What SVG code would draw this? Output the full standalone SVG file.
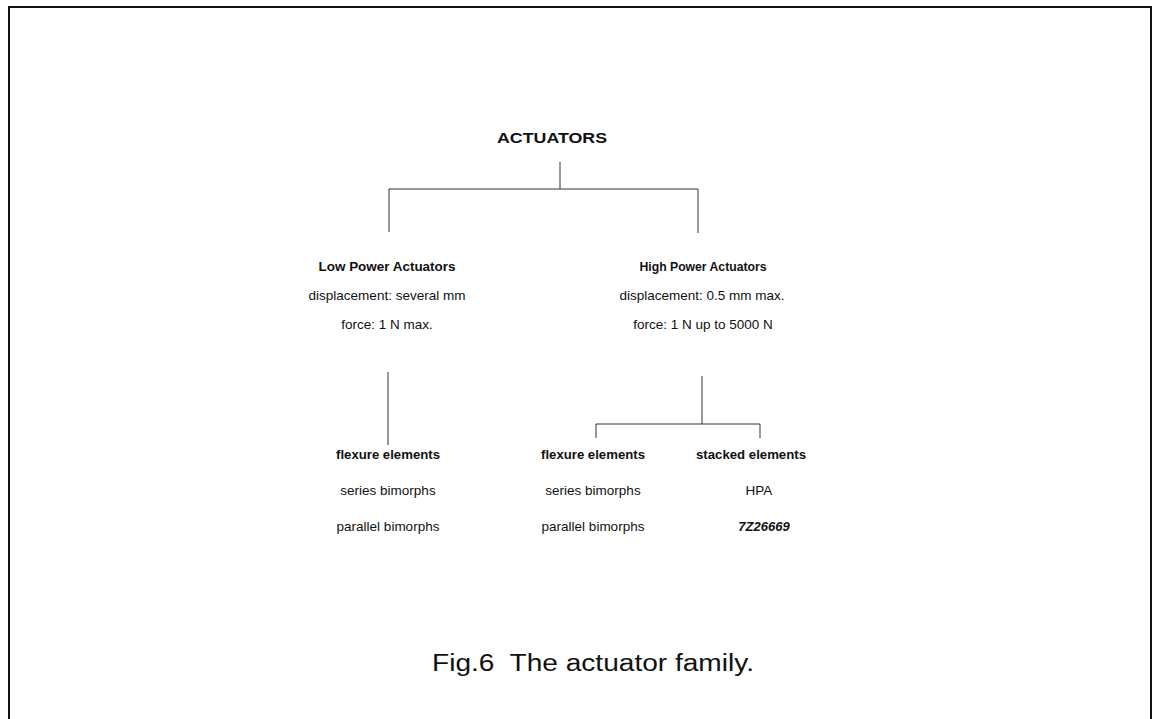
<svg xmlns="http://www.w3.org/2000/svg" width="1154" height="719" viewBox="0 0 1154 719">
<style>
.t{font-family:"Liberation Sans",Arial,sans-serif;fill:#111;text-anchor:middle}
.h{font-size:12.5px;font-weight:bold}
.r{font-size:13.5px}
.ln{stroke:#333;stroke-width:1;fill:none}
</style>
<rect width="1154" height="719" fill="#fff"/>
<path d="M9,719 V7 H1151 V719" fill="none" stroke="#111" stroke-width="2"/>
<g id="connectors">
<path class="ln" d="M560,162 V189 M389,189 H698 M389,189 V232 M698,189 V233"/>
<path class="ln" d="M388,372 V445"/>
<path class="ln" d="M702,376 V424 M596,424 H760 M596,424 V438 M760,424 V438"/>
</g>
<g id="root"><text class="t" x="552" y="143" style="font-size:15.5px;font-weight:bold" textLength="110" lengthAdjust="spacingAndGlyphs">ACTUATORS</text></g>
<g id="low">
<text class="t h" x="387" y="271" textLength="137" lengthAdjust="spacingAndGlyphs">Low Power Actuators</text>
<text class="t r" x="387" y="300">displacement: several mm</text>
<text class="t r" x="387" y="329">force: 1 N max.</text>
</g>
<g id="high">
<text class="t h" x="703" y="271" textLength="127" lengthAdjust="spacingAndGlyphs">High Power Actuators</text>
<text class="t r" x="702" y="300">displacement: 0.5 mm max.</text>
<text class="t r" x="703" y="329">force: 1 N up to 5000 N</text>
</g>
<g id="low-flexure">
<text class="t h" x="388" y="459" textLength="104" lengthAdjust="spacingAndGlyphs">flexure elements</text>
<text class="t r" x="388" y="495">series bimorphs</text>
<text class="t r" x="388" y="531">parallel bimorphs</text>
</g>
<g id="high-flexure">
<text class="t h" x="593" y="459" textLength="104" lengthAdjust="spacingAndGlyphs">flexure elements</text>
<text class="t r" x="593" y="495">series bimorphs</text>
<text class="t r" x="593" y="531">parallel bimorphs</text>
</g>
<g id="stacked">
<text class="t h" x="751" y="459" textLength="110" lengthAdjust="spacingAndGlyphs">stacked elements</text>
<text class="t r" x="759" y="495">HPA</text>
<text class="t" x="764" y="531" style="font-size:13px;font-weight:bold;font-style:italic">7Z26669</text>
</g>
<g id="caption"><text class="t" x="593" y="671" style="font-size:23px" textLength="322" lengthAdjust="spacingAndGlyphs">Fig.6&#160; The actuator family.</text></g>
</svg>
